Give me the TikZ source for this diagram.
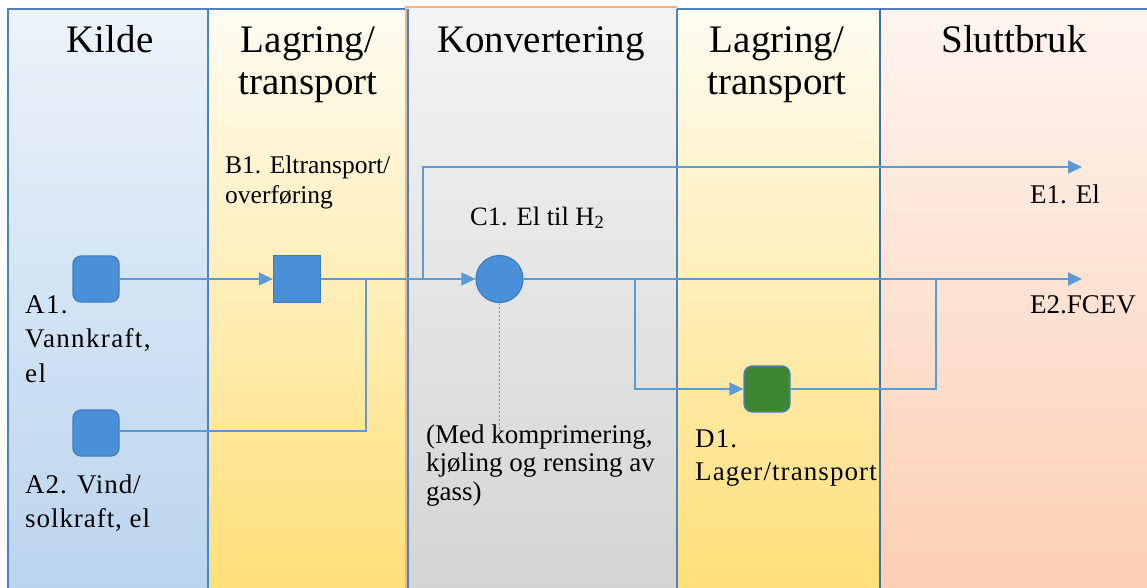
\documentclass[tikz,border=0pt]{standalone}
\usepackage{fontspec}
\setmainfont{Liberation Serif}
\usetikzlibrary{arrows.meta}
\definecolor{flowc}{HTML}{5B9BD5}
\definecolor{nodeblue}{HTML}{4A90D9}
\definecolor{nodeborder}{HTML}{3F7CBF}
\definecolor{nodegreen}{HTML}{3E8534}
\definecolor{frameblue}{HTML}{4F81BD}
\definecolor{divblue}{HTML}{3E6FA8}
\definecolor{peach}{HTML}{F4B183}
\definecolor{kildetop}{HTML}{ECF3FA}
\definecolor{kildebot}{HTML}{BAD4EE}
\definecolor{lagtop}{HTML}{FFFCF2}
\definecolor{lagbot}{HTML}{FFDF78}
\definecolor{kontop}{HTML}{F4F4F4}
\definecolor{konbot}{HTML}{D4D4D4}
\definecolor{slutop}{HTML}{FFF4EF}
\definecolor{slumid}{HTML}{FBC3A1}
\definecolor{slubot}{HTML}{FCCFB4}
\tikzset{
  colbox/.style={draw=frameblue, line width=1.2pt},
  header/.style={font=\fontsize{39}{42}\selectfont, align=center, inner sep=0pt},
  lbl/.style={font=\fontsize{26.5}{33}\selectfont, align=left, inner sep=0pt, anchor=base west},
  flow/.style={draw=flowc, line width=1.8pt},
  arr/.style={-{Triangle[length=14pt,width=13pt]}},
  rsq/.style={draw=nodeborder, line width=1.2pt, fill=nodeblue, minimum size=46pt, rounded corners=8pt, inner sep=0pt},
  sq/.style={draw=nodeborder, line width=1.2pt, fill=nodeblue, minimum size=47pt, inner sep=0pt},
  circ/.style={circle, draw=nodeborder, line width=1.2pt, fill=nodeblue, minimum size=47pt, inner sep=0pt},
  gsq/.style={draw=frameblue, line width=1.2pt, fill=nodegreen, minimum size=46pt, rounded corners=8pt, inner sep=0pt},
  dotline/.style={draw=flowc, line width=1pt, dash pattern=on 2pt off 2pt}
}
\begin{document}
\begin{tikzpicture}[x=1pt,y=-1pt]
\path[use as bounding box, fill=white] (0,0) rectangle (1147,588);
% columns
\path[top color=kildetop, bottom color=kildebot] (8,9) rectangle (208,592);
\path[top color=lagtop, bottom color=lagbot] (208,9) rectangle (407,592);
\path[top color=kontop, bottom color=konbot] (408,7) rectangle (677,592);
\path[top color=lagtop, bottom color=lagbot] (677,9) rectangle (880,592);
\path[top color=slutop, middle color=slumid, bottom color=slubot] (880,9) rectangle (1150,592);
\draw[colbox] (8,592) -- (8,9) -- (407,9);
\draw[colbox] (208,9) -- (208,592);
\draw[draw=peach, line width=1.2pt] (406,592) -- (406,7) -- (677,7);
\draw[colbox] (408,9) -- (408,592);
\draw[colbox] (677,9) -- (677,592);
\draw[colbox] (677,9) -- (1150,9);
\draw[draw=divblue, line width=2.6pt] (880,9) -- (880,592);
% headers
\node[header, anchor=base] (hK) at (110,53) {Kilde};
\node[header, anchor=base] (hL1) at (308,95) {Lagring/\\transport};
\node[header, anchor=base] (hKo) at (541,53) {Konvertering};
\node[header, anchor=base] (hL2) at (777,95) {Lagring/\\transport};
\node[header, anchor=base] (hS) at (1014,53) {Sluttbruk};
% nodes
\node[rsq] (A1) at (96,279) {};
\node[rsq] (A2) at (96,433) {};
\node[sq] (B1) at (297,279) {};
\node[circ] (C1) at (499.5,279) {};
\node[gsq] (D1) at (767,389) {};
% coordinates
\coordinate (jA) at (366,279);
\coordinate (jE) at (423,279);
\coordinate (jD) at (635,279);
\coordinate (jD2) at (936,279);
\coordinate (E1end) at (1082,167);
\coordinate (E2end) at (1082,279);
\coordinate (medtop) at (499.5,430);
% connectors
\draw[flow, arr] (A1.east) -- (B1.west);
\draw[flow, arr] (B1.east) -- (C1.west);
\draw[flow] (A2.east |- 0,431) -| (jA);
\draw[flow, arr] (jE) |- (E1end);
\draw[flow, arr] (C1.east) -- (E2end);
\draw[flow, arr] (jD) |- (D1.west);
\draw[flow] (D1.east) -| (jD2);
\draw[dotline] (C1.south) -- (medtop);
% labels
\node[lbl, font=\fontsize{27}{34.5}\selectfont\addfontfeature{LetterSpace=5}] (tA1) at (25,382) {A1.\\Vannkraft,\\el};
\node[lbl, font=\fontsize{27}{34}\selectfont\addfontfeature{LetterSpace=3.5}] (tA2) at (25,527) {A2. Vind/\\solkraft, el};
\node[lbl, font=\fontsize{25.5}{30}\selectfont] (tB1) at (225,203) {B1. Eltransport/\\overføring};
\node[lbl] (tC1) at (470,225) {C1. El til H\textsubscript{2}};
\node[lbl, font=\fontsize{27}{28.5}\selectfont] (tMed) at (426,500) {(Med komprimering,\\kjøling og rensing av\\gass)};
\node[lbl, font=\fontsize{27}{33}\selectfont\addfontfeature{LetterSpace=4}] (tD1) at (695,480) {D1.\\Lager/transport};
\node[lbl, font=\fontsize{27}{33}\selectfont] (tE1) at (1030,203) {E1. El};
\node[lbl, font=\fontsize{27}{33}\selectfont] (tE2) at (1030,313) {E2.FCEV};
\end{tikzpicture}
\end{document}
